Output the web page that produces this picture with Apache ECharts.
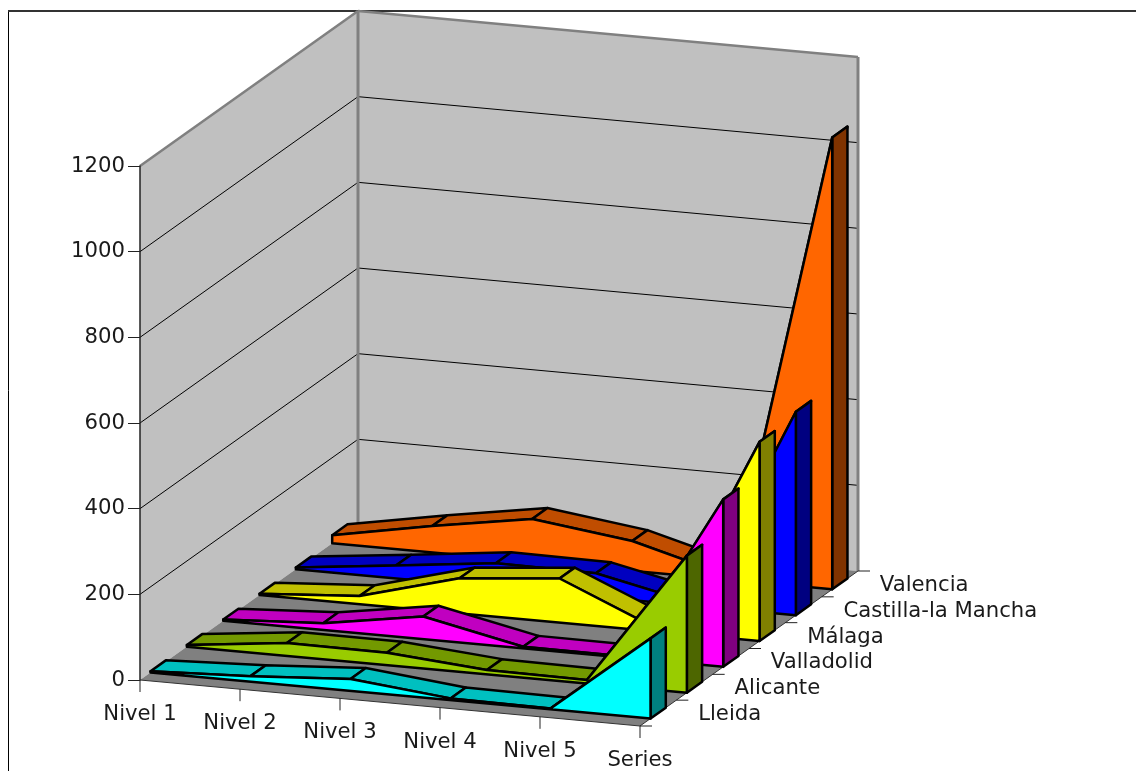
<!DOCTYPE html>
<html>
<head>
<meta charset="utf-8">
<style>html,body{margin:0;padding:0;background:#fff}#c{width:1136px;height:771px}</style>
<script src="https://cdn.jsdelivr.net/npm/echarts@6/dist/echarts.min.js"></script>
</head>
<body>
<div id="c"></div>
<script>
const categories = ['Nivel 1', 'Nivel 2', 'Nivel 3', 'Nivel 4', 'Nivel 5', 'Series'];
const provinces = ['Lleida', 'Alicante', 'Valladolid', 'Málaga', 'Castilla-la Mancha', 'Valencia'];
const yTicks = [0, 200, 400, 600, 800, 1000, 1200];
const lleida = [3, 13, 28, 4, 2, 187];
const alicante = [4, 30, 29, 10, 8, 320];
const valladolid = [3, 16, 53, 4, 3, 391];
const malaga = [3, 19, 82, 103, 4, 465];
const castilla = [4, 30, 57, 55, 5, 475];
const valencia = [19, 62, 100, 70, 7, 1055];
const allValues = [lleida, alicante, valladolid, malaga, castilla, valencia];
const faceColors = ['#00FFFF', '#99CC00', '#FF00FF', '#FFFF00', '#0000FF', '#FF6600'];
const topColors = ['#00C0C0', '#739900', '#C000C0', '#C0C000', '#0000C0', '#C04D00'];
const sideColors = ['#008080', '#4D6600', '#800080', '#808000', '#000080', '#803300'];

// oblique 3D view, added on top of the cartesian scales
const DEPTH_X = 218, DEPTH_Y = -155, SHEAR = 9.2;
const FRONT = 0.29, BACK = 0.71;
const FONT = '"DejaVu Sans", Verdana, sans-serif';
const FONT_SIZE = 21.2;

function project(api, x, d, v) {
  const c = api.coord([x, v]);
  return [c[0] + DEPTH_X * d, c[1] + SHEAR * x + DEPTH_Y * d];
}
function poly(points, fill, stroke, lw, z2) {
  return {
    type: 'polygon', z2: z2,
    shape: { points: points },
    style: { fill: fill, stroke: stroke, lineWidth: lw, lineJoin: 'round' }
  };
}
function seg(a, b, stroke, lw, z2) {
  return {
    type: 'line', z2: z2,
    shape: { x1: a[0], y1: a[1], x2: b[0], y2: b[1] },
    style: { stroke: stroke, lineWidth: lw, fill: null }
  };
}

function renderProvince(s) {
  const vals = allValues[s];
  const df = (s + FRONT) / provinces.length, db = (s + BACK) / provinces.length;
  return function (params, api) {
    const i = params.dataIndex;
    const kids = [];
    if (i < vals.length - 1) {
      kids.push(poly([
        project(api, i, df, vals[i]),
        project(api, i + 1, df, vals[i + 1]),
        project(api, i + 1, db, vals[i + 1]),
        project(api, i, db, vals[i])
      ], topColors[s], '#000', 2.5, 1));
    } else {
      kids.push(poly([
        project(api, i, df, vals[i]),
        project(api, i, db, vals[i]),
        project(api, i, db, 0),
        project(api, i, df, 0)
      ], sideColors[s], '#000', 2.5, 2));
      const face = vals.map((v, k) => project(api, k, df, v));
      face.push(project(api, vals.length - 1, df, 0));
      face.push(project(api, 0, df, 0));
      kids.push(poly(face, faceColors[s], '#000', 2.5, 3));
    }
    return { type: 'group', children: kids };
  };
}

function renderWallTick(params, api) {
  const v = yTicks[params.dataIndex];
  const last = categories.length - 1;
  const kids = [];
  if (params.dataIndex === 0) {
    kids.push(poly([project(api, 0, 0, 0), project(api, 0, 1, 0), project(api, 0, 1, 1200), project(api, 0, 0, 1200)], '#C0C0C0', null, 0, 1));
    kids.push(poly([project(api, 0, 1, 0), project(api, last, 1, 0), project(api, last, 1, 1200), project(api, 0, 1, 1200)], '#C0C0C0', null, 0, 1));
    kids.push(poly([project(api, 0, 0, 0), project(api, last, 0, 0), project(api, last, 1, 0), project(api, 0, 1, 0)], '#808080', null, 0, 1));
    kids.push(seg(project(api, 0, 0, 1200), project(api, 0, 1, 1200), '#808080', 2.5, 4));
    kids.push(seg(project(api, 0, 1, 1200), project(api, last, 1, 1200), '#808080', 2.5, 4));
    kids.push(seg(project(api, 0, 1, 0), project(api, 0, 1, 1200), '#808080', 3, 4));
    kids.push(seg(project(api, last, 1, 0), project(api, last, 1, 1200), '#808080', 3, 4));
    kids.push(seg(project(api, 0, 0, 0), project(api, last, 0, 0), '#333', 1, 5));
    kids.push(seg(project(api, last, 0, 0), project(api, last, 1, 0), '#333', 1, 5));
  } else if (v < 1200) {
    kids.push(seg(project(api, 0, 0, v), project(api, 0, 1, v), '#000', 1, 3));
    kids.push(seg(project(api, 0, 1, v), project(api, last, 1, v), '#000', 1, 3));
  }
  return { type: 'group', children: kids };
}

function renderXLabel(params, api) {
  const i = params.dataIndex;
  const p = project(api, i, 0, 0);
  return {
    type: 'group',
    children: [
      seg(p, [p[0], p[1] + 12], '#222', 1, 5),
      {
        type: 'text', z2: 6,
        style: { x: p[0], y: p[1] + 34.5, text: categories[i], font: FONT_SIZE + 'px ' + FONT, fill: '#1a1a1a', align: 'center', verticalAlign: 'middle' }
      }
    ]
  };
}

function renderDepthLabel(params, api) {
  const i = params.dataIndex;
  const last = categories.length - 1;
  const n = provinces.length;
  const kids = [];
  const edge = project(api, last, (i + 1) / n, 0);
  kids.push(seg(edge, [edge[0] + 12, edge[1]], '#222', 1, 5));
  if (i === 0) {
    const e0 = project(api, last, 0, 0);
    kids.push(seg(e0, [e0[0] + 12, e0[1]], '#222', 1, 5));
  }
  const mid = project(api, last, (i + 0.5) / n, 0);
  kids.push({
    type: 'text', z2: 6,
    style: { x: mid[0] + 40, y: mid[1] + 1.5, text: provinces[i], font: FONT_SIZE + 'px ' + FONT, fill: '#1a1a1a', align: 'left', verticalAlign: 'middle' }
  });
  return { type: 'group', children: kids };
}

const series = [
  { type: 'custom', name: 'walls', z: 1, silent: true, clip: false, renderItem: renderWallTick, data: yTicks.map(v => [0, v]), encode: { x: 0, y: 1 } }
];
provinces.forEach((name, s) => {
  series.push({
    type: 'custom', name: name, z: 2 + (provinces.length - 1 - s), silent: true, clip: false,
    renderItem: renderProvince(s),
    data: allValues[s].map((v, i) => [i, v]),
    encode: { x: 0, y: 1 }
  });
});
series.push({ type: 'custom', name: 'xLabels', z: 10, silent: true, clip: false, renderItem: renderXLabel, data: categories.map((c, i) => [i, 0]), encode: { x: 0, y: 1 } });
series.push({ type: 'custom', name: 'depthLabels', z: 10, silent: true, clip: false, renderItem: renderDepthLabel, data: provinces.map((c, i) => [i, 0]), encode: { x: 0, y: 1 } });

const chart = echarts.init(document.getElementById('c'), null, { renderer: 'canvas', width: 1136, height: 771 });
chart.setOption({
  animation: false,
  backgroundColor: '#fff',
  textStyle: { fontFamily: FONT },
  legend: { show: false },
  tooltip: { show: false },
  graphic: [
    { type: 'line', z: 0, shape: { x1: 8.5, y1: 10, x2: 8.5, y2: 771 }, style: { stroke: '#000', lineWidth: 1 } },
    { type: 'line', z: 0, shape: { x1: 8, y1: 11, x2: 1136, y2: 11 }, style: { stroke: '#333', lineWidth: 2 } }
  ],
  grid: { left: 140, top: 166, width: 500, height: 514, containLabel: false },
  xAxis: {
    type: 'category', data: categories, boundaryGap: false,
    axisLine: { show: false }, axisTick: { show: false }, axisLabel: { show: false }, splitLine: { show: false }
  },
  yAxis: {
    type: 'value', min: 0, max: 1200, interval: 200, z: 5,
    axisLine: { show: true, lineStyle: { color: '#222', width: 1.5 } },
    axisTick: { show: true, length: 12, lineStyle: { color: '#222', width: 1 } },
    axisLabel: { show: true, margin: 15, fontSize: FONT_SIZE, fontFamily: FONT, color: '#1a1a1a', padding: [4, 0, 0, 0], formatter: v => String(v) },
    splitLine: { show: false }
  },
  series: series
});
</script>
</body>
</html>
